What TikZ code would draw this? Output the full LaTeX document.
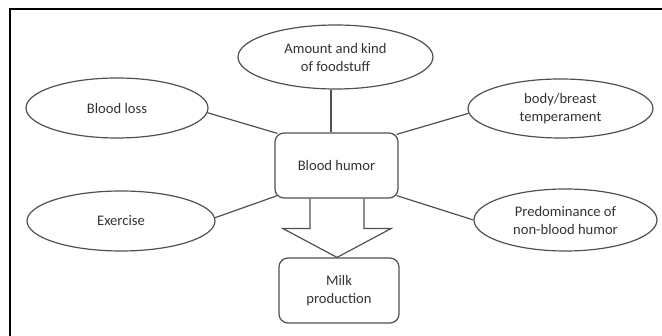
\documentclass[tikz,border=0pt]{standalone}
\usepackage{fontspec}
\setmainfont{Carlito}
\usetikzlibrary{shapes.geometric,calc}
\definecolor{txt}{HTML}{333333}
\definecolor{ln}{HTML}{505050}
\begin{document}
\begin{tikzpicture}[x=1pt,y=-1pt,
  ell/.style={ellipse,draw=ln,line width=1.2pt,inner sep=0pt,align=center,text=txt,
    font=\fontsize{14.6}{18}\selectfont},
  rbox/.style={rectangle,rounded corners=9pt,draw=ln,line width=1.2pt,inner sep=0pt,align=center,text=txt,
    font=\fontsize{14.6}{18}\selectfont},
  conn/.style={draw=ln,line width=1.2pt},
  frame/.style={draw=black,line width=2.2pt}]
\useasboundingbox (0,0) rectangle (662,336);
\draw[frame] (10,336) -- (10,9) -- (662,9);

\node[ell,minimum width=195,minimum height=64] (food) at (335.5,57) {Amount and kind\\of foodstuff};
\node[ell,minimum width=182,minimum height=60] (loss) at (117,108) {Blood loss};
\node[ell,minimum width=185,minimum height=59] (temp) at (560.5,108.5) {body/breast\\temperament};
\node[ell,minimum width=188,minimum height=60] (exer) at (121,221) {Exercise};
\node[ell,minimum width=183,minimum height=62] (pred) at (565.5,220) {Predominance of\\non-blood humor};
\node[rbox,minimum width=123,minimum height=65] (bh) at (336.5,165.5) {Blood humor};
\node[rbox,minimum width=120,minimum height=65] (mp) at (339,290.5) {Milk\\production};

\draw[conn] (food.south -| 331,0) -- (bh.north -| 331,0);
\draw[conn] (loss.-3) -- ($(bh.north west)+(3,1)$);
\draw[conn] (temp.183) -- ($(bh.north east)+(-2,2)$);
\draw[conn] (exer.2) -- ($(bh.south west)+(3,-3)$);
\draw[conn] (pred.west) -- ($(bh.south east)+(-2,-3)$);

\draw[conn,line join=miter] ($(bh.south)+(-26.5,0)$) -- ++(0,30) -- ++(-27,0)
  -- ($(bh.south |- mp.north)+(0.5,0)$)
  -- ($(bh.south)+(54.5,30)$) -- ++(-27,0) -- ++(0,-30);
\end{tikzpicture}
\end{document}
